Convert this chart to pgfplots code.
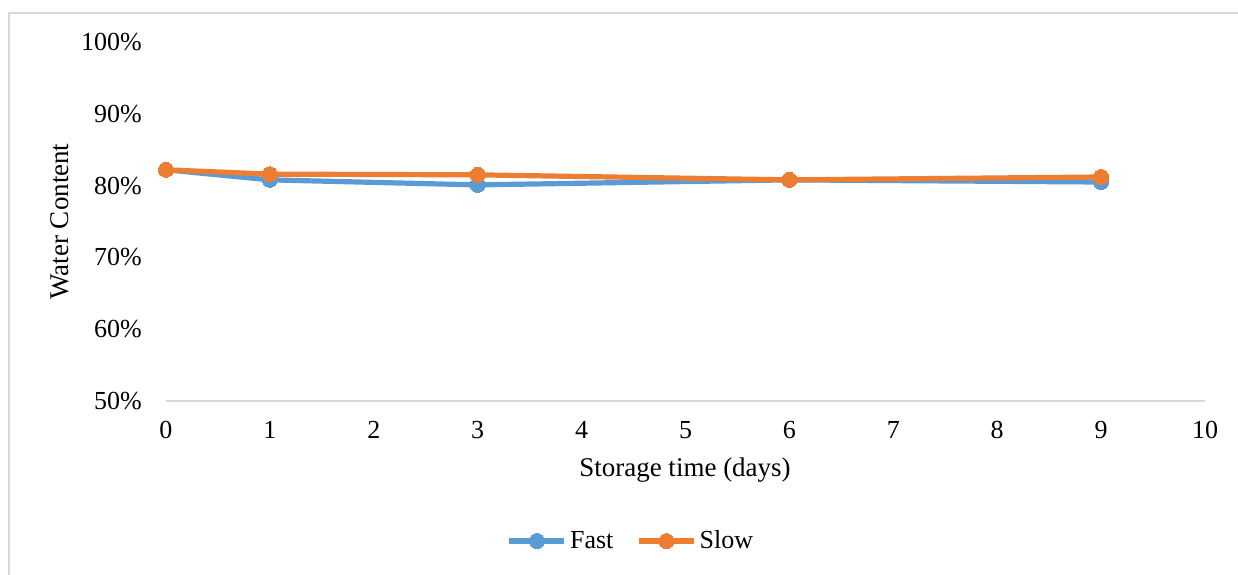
\documentclass[border=0pt]{standalone}
\usepackage{fontspec}
\setmainfont{Liberation Serif}
\usepackage{pgfplots}
\pgfplotsset{compat=1.18}
\definecolor{cblue}{HTML}{5B9BD5}
\definecolor{corange}{HTML}{ED7D31}
\definecolor{cgrid}{HTML}{D9D9D9}
\begin{document}
\begin{tikzpicture}[font=\fontsize{13}{15}\selectfont]
\path[use as bounding box] (0,0) rectangle (619pt,-287pt);
\draw[cgrid, line width=0.9pt] (4.5pt,-300pt) -- (4.5pt,-6.5pt) -- (640pt,-6.5pt);
\begin{axis}[
  at={(83pt,-200.5pt)}, anchor=south west,
  scale only axis, width=519.5pt, height=179.5pt,
  xmin=0, xmax=10, ymin=50, ymax=100,
  xtick={0,1,...,10}, ytick={50,60,...,100},
  /pgf/number format/assume math mode=true,
  yticklabel={\pgfmathprintnumber{\tick}\%},
  axis x line*=bottom, axis y line*=left,
  x axis line style={draw=cgrid, line width=0.9pt, -},
  y axis line style={draw=none},
  major tick length=0pt, tick style={draw=none},
  xticklabel style={yshift=-6.7pt},
  yticklabel style={xshift=-8.6pt},
  xlabel={Storage time (days)},
  xlabel style={at={(axis description cs:0.4995,-0.192)}, anchor=center, font=\fontsize{13.5}{15}\selectfont},
  ylabel={Water Content},
  ylabel style={at={(axis description cs:-0.102,0.5)}, anchor=center, font=\fontsize{13.5}{15}\selectfont},
  legend columns=2,
  legend style={at={(0.448,-0.39)}, anchor=center, draw=none, fill=none,
    /tikz/every even column/.append style={column sep=10pt},
    nodes={inner sep=1.5pt}},
  legend image code/.code={\draw[#1, mark repeat=2, mark phase=2] plot coordinates {(0pt,0pt) (13.75pt,0pt) (27.5pt,0pt)};},
  every axis plot/.append style={line width=2.6pt, line join=round, mark=*, mark size=3.75pt},
]
\addplot[color=cblue, mark options={fill=cblue, draw=cblue, line width=0pt}] coordinates {(0,82.2) (1,80.8) (3,80.1) (6,80.8) (9,80.5)};
\addlegendentry{Fast}
\addplot[color=corange, mark options={fill=corange, draw=corange, line width=0pt}] coordinates {(0,82.2) (1,81.6) (3,81.5) (6,80.8) (9,81.2)};
\addlegendentry{Slow}
\end{axis}
\end{tikzpicture}
\end{document}
